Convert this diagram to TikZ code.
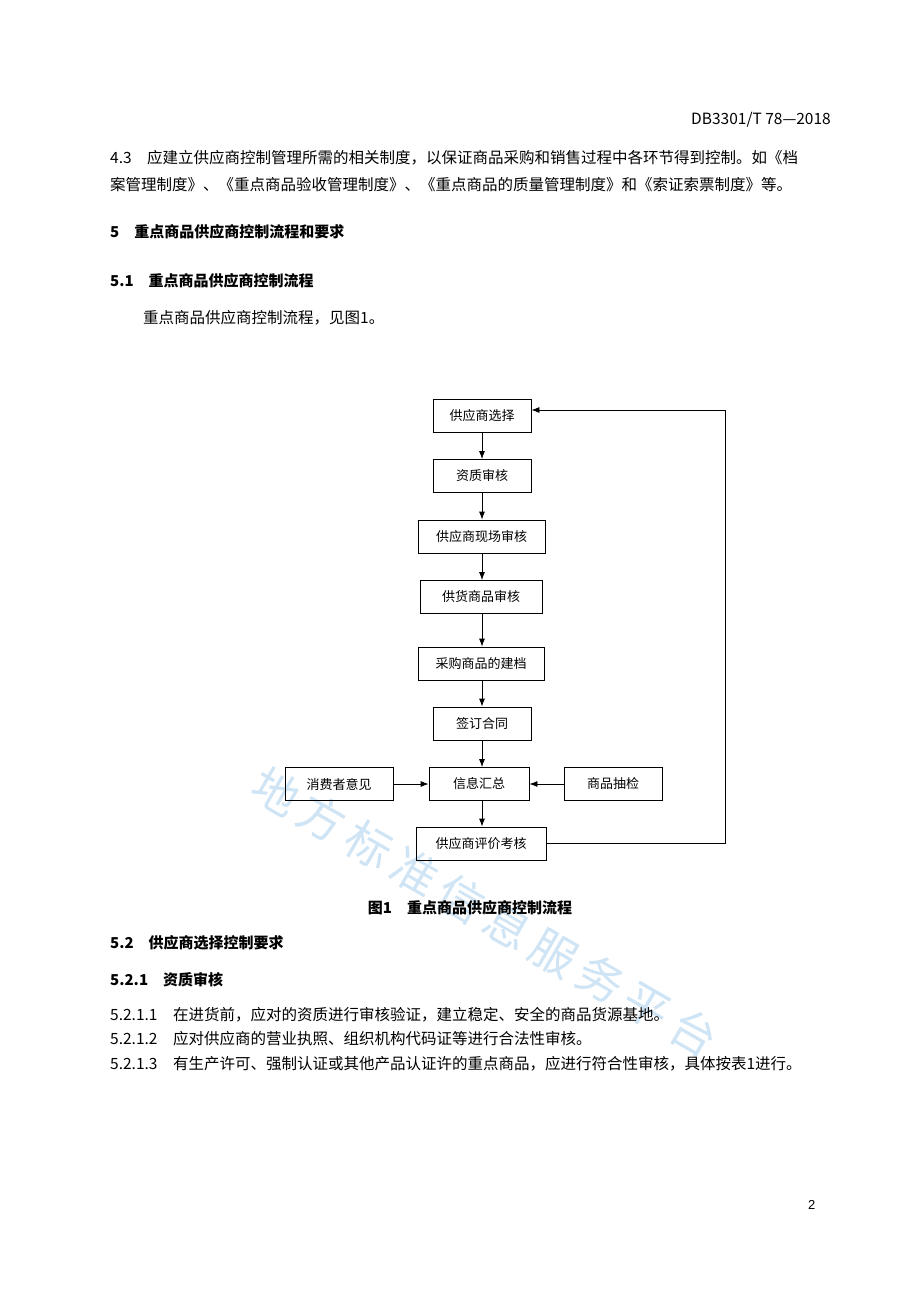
\documentclass[tikz,border=0pt]{standalone}
\usepackage{fontspec}
\setmainfont{Liberation Sans}
\newfontfamily\cjk{Noto Sans CJK SC}
\usetikzlibrary{positioning,arrows.meta}
\tikzset{
  flowbox/.style={draw, thick, minimum height=33pt, font=\cjk\fontsize{13}{13}\selectfont, inner xsep=8pt},
  flow/.style={-{Latex[length=8pt,width=6pt]}, thick},
  para/.style={anchor=west, inner sep=0pt, font=\cjk\fontsize{15.5}{16}\selectfont},
  head/.style={para, font=\cjk\bfseries\fontsize{15}{16}\selectfont}
}
\begin{document}
\begin{tikzpicture}[x=1pt, y=-1pt]
  \useasboundingbox[fill=white] (0,0) rectangle (920,1302);

  % Watermark
  \node[rotate=-30, text=cyan!60!blue, opacity=0.2, font=\cjk\fontsize{46}{46}\selectfont] (wm) at (485,912) {地\,方\,标\,准\,信\,息\,服\,务\,平\,台};

  % Page text
  \node[para, anchor=east] (hdr) at (831,120) {DB3301/T 78—2018};
  \node[para] (p43a) at (110,158) {4.3\quad 应建立供应商控制管理所需的相关制度，以保证商品采购和销售过程中各环节得到控制。如《档};
  \node[para] (p43b) at (110,185) {案管理制度》、《重点商品验收管理制度》、《重点商品的质量管理制度》和《索证索票制度》等。};
  \node[head] (s5) at (110,232) {5\quad 重点商品供应商控制流程和要求};
  \node[head] (s51) at (110,281) {5.1\quad 重点商品供应商控制流程};
  \node[para] (p51) at (143,318) {重点商品供应商控制流程，见图1。};
  \node[head, anchor=center] (cap) at (470,908) {图1\quad 重点商品供应商控制流程};
  \node[head] (s52) at (110,943) {5.2\quad 供应商选择控制要求};
  \node[head] (s521) at (110,980) {5.2.1\quad 资质审核};
  \node[para] (p1) at (110,1015) {5.2.1.1\quad 在进货前，应对的资质进行审核验证，建立稳定、安全的商品货源基地。};
  \node[para] (p2) at (110,1039) {5.2.1.2\quad 应对供应商的营业执照、组织机构代码证等进行合法性审核。};
  \node[para] (p3) at (110,1064) {5.2.1.3\quad 有生产许可、强制认证或其他产品认证许的重点商品，应进行符合性审核，具体按表1进行。};
  \node[para, font=\fontsize{13}{13}\selectfont] (pg) at (808,1205) {2};

  % Flowchart
  \node[flowbox, minimum width=98pt] (sel) at (482,415.5) {供应商选择};
  \node[flowbox, minimum width=98pt] (qual) at (482,476) {资质审核};
  \node[flowbox, minimum width=127pt] (site) at (481.5,536.5) {供应商现场审核};
  \node[flowbox, minimum width=122pt] (goods) at (481,597) {供货商品审核};
  \node[flowbox, minimum width=126pt] (arch) at (481,663.5) {采购商品的建档};
  \node[flowbox, minimum width=98pt] (sign) at (482,723.5) {签订合同};
  \node[flowbox, minimum width=100pt] (info) at (479,784) {信息汇总};
  \node[flowbox, minimum width=108pt] (cons) at (339,784) {消费者意见};
  \node[flowbox, minimum width=98pt] (samp) at (613,784) {商品抽检};
  \node[flowbox, minimum width=130pt] (eval) at (481,843.5) {供应商评价考核};
  \coordinate (fbA) at (725,843.5);
  \coordinate (fbB) at (725,410);

  \draw[flow] (sel.south -| 482,0) -- (qual.north -| 482,0);
  \draw[flow] (qual.south -| 482,0) -- (site.north -| 482,0);
  \draw[flow] (site.south -| 482,0) -- (goods.north -| 482,0);
  \draw[flow] (goods.south -| 482,0) -- (arch.north -| 482,0);
  \draw[flow] (arch.south -| 482,0) -- (sign.north -| 482,0);
  \draw[flow] (sign.south -| 482,0) -- (info.north -| 482,0);
  \draw[flow] (info.south -| 482,0) -- (eval.north -| 482,0);
  \draw[flow] (cons) -- (info);
  \draw[flow] (samp) -- (info);
  \draw[flow] (eval.east) -- (fbA) -- (fbB) -- (fbB -| sel.east);
\end{tikzpicture}
\end{document}
